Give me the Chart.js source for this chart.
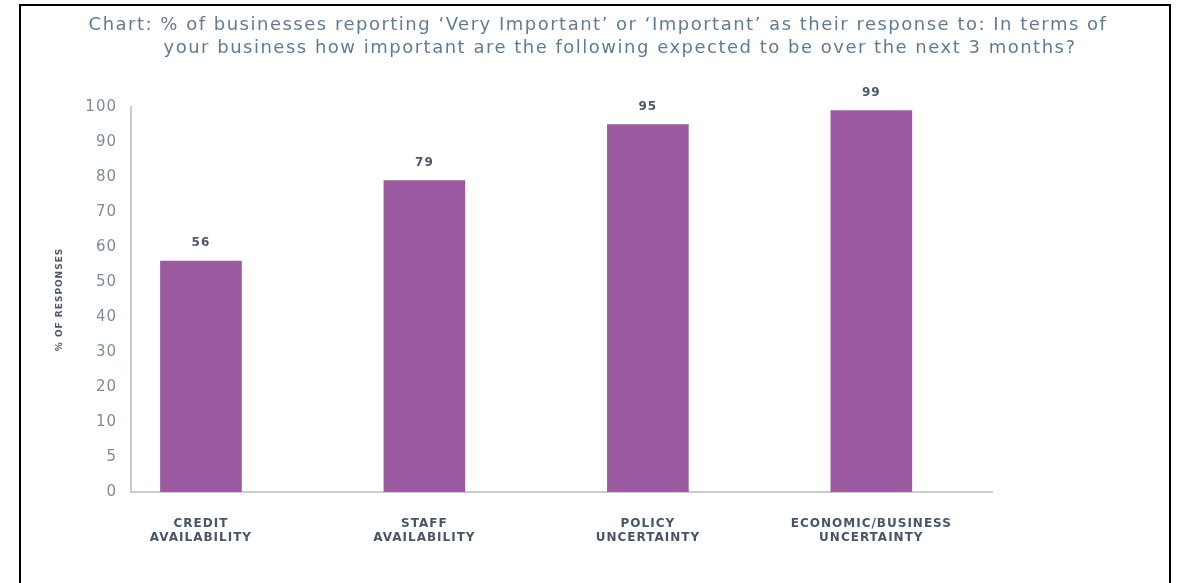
<!DOCTYPE html>
<html>
<head>
<meta charset="utf-8">
<script src="https://cdn.jsdelivr.net/npm/chart.js@4.4.1/dist/chart.umd.min.js"></script>
<style>
  body { margin: 0; background: #fff; }
  #wrap { position: relative; width: 1178px; height: 583px; overflow: hidden; }
  #frame { position: absolute; left: 19px; top: 4px; width: 1148px; height: 620px; border: 2px solid #000; }
  #chart { position: absolute; left: 0; top: 0; }
</style>
</head>
<body>
<div id="wrap">
  <div id="frame"></div>
  <canvas id="chart" width="1178" height="583"></canvas>
</div>
<script>
// data
var titleLines = [
	'Chart: % of businesses reporting \u2018Very Important\u2019 or \u2018Important\u2019 as their response to: In terms of',
	'your business how important are the following expected to be over the next 3 months?'
];
var categories = [
	['CREDIT', 'AVAILABILITY'],
	['STAFF', 'AVAILABILITY'],
	['POLICY', 'UNCERTAINTY'],
	['ECONOMIC/BUSINESS', 'UNCERTAINTY']
];
var values = [56, 79, 95, 99];
var yTicks = [0, 5, 10, 20, 30, 40, 50, 60, 70, 80, 90, 100];
var yTitle = '% OF RESPONSES';

// y scale where every tick gets the same spacing (0,5,10,20...)
function tickStep(v) {
	for (var i = 1; i < yTicks.length; i++) {
		if (v <= yTicks[i]) {
			return (i - 1) + (v - yTicks[i - 1]) / (yTicks[i] - yTicks[i - 1]);
		}
	}
	return yTicks.length - 1;
}

class StepScale extends Chart.LinearScale {
	buildTicks() {
		return yTicks.map(function(v) { return {value: v}; });
	}
	getPixelForValue(value) {
		return this.getPixelForDecimal(tickStep(value) / (yTicks.length - 1));
	}
	getValueForPixel(pixel) {
		var p = this.getDecimalForPixel(pixel) * (yTicks.length - 1);
		var i = Math.max(0, Math.min(yTicks.length - 2, Math.floor(p)));
		return yTicks[i] + (p - i) * (yTicks[i + 1] - yTicks[i]);
	}
}
StepScale.id = 'stepped';
StepScale.defaults = Chart.LinearScale.defaults;
Chart.register(StepScale);

// wide lettering like the original's font
var spacing = {
	id: 'spacing',
	beforeDraw: function(chart) {
		chart.ctx.letterSpacing = '1px';
	}
};

var titlePlugin = {
	id: 'twoLineTitle',
	afterDraw: function(chart) {
		var ctx = chart.ctx;
		ctx.save();
		ctx.letterSpacing = '1.5px';
		ctx.font = '18px "DejaVu Sans"';
		ctx.fillStyle = '#5f7c96';
		ctx.textAlign = 'center';
		ctx.textBaseline = 'middle';
		ctx.fillText(titleLines[0], 598, 25);
		ctx.fillText(titleLines[1], 620, 48);
		ctx.restore();
	}
};

var valueLabels = {
	id: 'valueLabels',
	afterDatasetsDraw: function(chart) {
		var ctx = chart.ctx;
		var meta = chart.getDatasetMeta(0);
		ctx.save();
		ctx.font = 'bold 12px "DejaVu Sans"';
		ctx.fillStyle = '#4b5866';
		ctx.textAlign = 'center';
		ctx.textBaseline = 'middle';
		meta.data.forEach(function(bar, i) {
			ctx.fillText(values[i], bar.x, bar.y - 18);
		});
		ctx.restore();
	}
};

var points = [];
for (var i = 0; i < values.length; i++) {
	points.push({x: i, y: values[i]});
}

var ctx = document.getElementById('chart').getContext('2d');
new Chart(ctx, {
	type: 'bar',
	data: {
		datasets: [{
			data: points,
			backgroundColor: '#9c5aa0',
			barThickness: 81
		}]
	},
	options: {
		responsive: false,
		animation: false,
		layout: { padding: { left: 20, right: 186, top: 107, bottom: 0 } },
		plugins: {
			legend: { display: false },
			tooltip: { enabled: false },
			title: { display: false }
		},
		scales: {
			x: {
				type: 'linear',
				offset: false,
				min: -0.313,
				max: 3.54,
				grid: { display: false, drawTicks: false, offset: false },
				border: { display: true, color: '#c9cdd1', width: 2 },
				afterBuildTicks: function(scale) {
					scale.ticks = categories.map(function(c, i) { return {value: i}; });
				},
				afterFit: function(scale) { scale.height = 91; },
				ticks: {
					autoSkip: false,
					maxRotation: 0,
					padding: 25,
					color: '#46566a',
					font: { family: 'DejaVu Sans', size: 12, weight: 'bold', lineHeight: 1.15 },
					callback: function(v) { return categories[v]; }
				}
			},
			y: {
				type: 'stepped',
				min: 0,
				max: 100,
				grid: { display: false, drawTicks: false },
				border: { display: true, color: '#c9cdd1', width: 2 },
				afterFit: function(scale) { scale.width = 111; },
				ticks: {
					padding: 14,
					color: '#7d8c9c',
					font: { family: 'DejaVu Sans', size: 15 },
					callback: function(v) { return String(v); }
				},
				title: {
					display: true,
					text: yTitle,
					color: '#4b5866',
					font: { family: 'DejaVu Sans', size: 9, weight: 'bold' },
					padding: { top: 34, bottom: 0 }
				}
			}
		}
	},
	plugins: [spacing, titlePlugin, valueLabels]
});
</script>
</body>
</html>
